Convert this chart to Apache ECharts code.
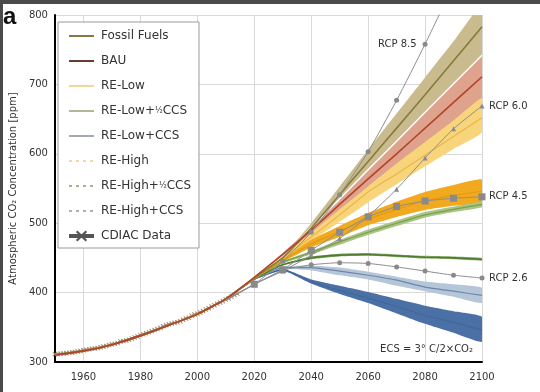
<!DOCTYPE html>
<html>
<head>
<meta charset="utf-8">
<script src="https://cdn.jsdelivr.net/npm/echarts@6/dist/echarts.min.js"></script>
<style>html,body{margin:0;padding:0;background:#fff}#c{width:540px;height:392px}</style>
</head>
<body>
<div id="c"></div>
<script>
// ---------- data ----------
const years = [1950,1960,1970,1980,1990,2000,2010,2020,2030,2040,2050,2060,2070,2080,2090,2100];
const fossil     = [310,316,325,338,353,369,391,421,450,493,541,589,637,685,734,783];
const bau        = [310,316,325,338,353,369,391,422,455,490,527,564,600,637,674,711];
const reLow      = [310,316,325,338,353,369,391,421,450,480,512,545,571,598,625,652];
const reHigh     = [310,316,325,338,353,369,391,420,446,470,488,506,520,532,540,546];
const reLowHalf  = [310,316,325,338,353,369,391,420,444,458,473,487,500,512,520,527];
const reHighHalf = [310,316,325,338,353,369,391,420,440,450,454,455,453,451,450,448];
const reLowCcs   = [310,316,325,338,353,369,391,419,436,436,431,425,418,408,402,396];
const reHighCcs  = [310,316,325,338,353,369,391,419,433,416,403,392,380,367,357,346];

const bandYears    = [2020,2030,2040,2050,2060,2070,2080,2090,2100];
const fossilLo     = [421,449,494,535,577,618,660,701,742];
const fossilHi     = [421,452,500,553,606,658,710,762,815];
const bauLo        = [421,453,484,515,546,580,613,647,680];
const bauHi        = [422,457,494,535,577,618,660,701,742];
const reLowLo      = [421,448,474,502,530,556,582,607,631];
const reLowHi      = [421,452,486,520,553,586,617,648,680];
const reHighLo     = [420,444,465,480,497,509,519,525,529];
const reHighHi     = [420,448,476,496,515,531,545,555,563];
const reLowHalfLo  = [420,442,455,469,483,496,508,516,523];
const reLowHalfHi  = [420,445,460,476,491,504,516,524,531];
const reHighHalfLo = [420,439,448,452,453,451,449,448,446];
const reHighHalfHi = [420,441,452,456,457,455,453,452,450];
const reLowCcsLo   = [419,434,432,425,419,410,402,394,385];
const reLowCcsHi   = [419,437,439,436,430,423,416,412,407];
const reHighCcsLo  = [419,432,413,398,385,370,355,342,329];
const reHighCcsHi  = [419,434,419,410,401,391,381,373,365];

const rcpYears = [2010,2020,2030,2040,2050,2060,2070,2080,2090,2100];
const rcp85 = [389,412,445,487,541,603,677,758,844,936];
const rcp60 = [389,412,431,454,478,510,549,594,636,669];
const rcp45 = [389,412,433,461,487,509,524,532,536,538];
const rcp26 = [389,412,432,440,443,442,437,431,425,421];

const cdiacStart = 1950;
const cdiac = [311.3,311.7,312.0,312.4,312.8,313.2,313.7,314.3,315.0,316.0,
  316.9,317.6,318.5,319.0,319.6,320.0,321.4,322.2,323.0,324.6,
  325.7,326.3,327.5,329.7,330.2,331.1,332.1,333.8,335.4,336.8,
  338.7,340.1,341.4,343.0,344.6,346.0,347.4,349.2,351.6,353.1,
  354.4,355.6,356.4,357.1,358.8,360.8,362.6,363.7,366.7,368.4,
  369.7,371.3,373.5,375.8,377.5,379.8,381.9,383.8,385.6,387.4,
  389.9,391.6,393.9,396.5,398.6];

const legendNames = ['Fossil Fuels','BAU','RE-Low','RE-Low+½CCS','RE-Low+CCS','RE-High','RE-High+½CCS','RE-High+CCS','CDIAC Data'];
const rcpNames = ['RCP 8.5','RCP 6.0','RCP 4.5','RCP 2.6'];

// ---------- build ----------
const FONT = 'DejaVu Sans';
const xPath = 'path://M0,1.4L1.4,0L10,8.6L8.6,10Z M8.6,0L10,1.4L1.4,10L0,8.6Z';

function band(lo, hi, color, edge) {
  return {
    type:'custom', z:2, silent:true,
    data: bandYears.map((y,i)=>[y, lo[i], hi[i]]),
    encode:{x:0, y:[1,2]},
    renderItem: function(params, api) {
      if (params.dataIndexInside !== 0) return null;
      const n = params.dataInsideLength;
      const up = [], dn = [];
      for (let j = 0; j < n; j++) {
        up.push(api.coord([api.value(0,j), api.value(2,j)]));
        dn.push(api.coord([api.value(0,j), api.value(1,j)]));
      }
      const cs = params.coordSys;
      const pts = up.slice();
      for (let j = n-1; j >= 1; j--) pts.push(dn[j]);
      const children = [{type:'polygon', shape:{points:pts, smooth:0.15,
          smoothConstraint:[[cs.x-30, cs.y-60],[cs.x+cs.width+30, cs.y+cs.height]]},
        style:{fill:color}}];
      if (edge) children.push({type:'polyline', shape:{points:dn, smooth:0.15}, style:{stroke:edge, lineWidth:1.5, fill:null}});
      return {type:'group', children:children,
        clipPath:{type:'rect', shape:{x:cs.x, y:cs.y, width:cs.width, height:cs.height}}};
    }
  };
}
function scen(name, vals, color, width) {
  return {type:'line', name:name, data: years.map((y,i)=>[y, vals[i]]), symbol:'none',
    smooth:0.15, lineStyle:{color:color, width:width}, itemStyle:{color:color}, z:4};
}
function rcp(name, vals, sym, size, endLabel) {
  const s = {type:'line', name:name, z:6,
    data: rcpYears.map((y,i)=> i===0 ? {value:[y, vals[i]], symbol:'none'} : [y, vals[i]]),
    symbol:sym, symbolSize:size, smooth:0.2,
    lineStyle:{color:'#8e8e8e', width:1}, itemStyle:{color:'#8a8a8a'}};
  if (endLabel) s.endLabel = {show:true, formatter:name, distance:7, color:'#333', fontSize:10, fontFamily:FONT};
  return s;
}

const series = [
  band(bauLo, bauHi, '#dfa28c'),
  band(fossilLo, fossilHi, '#c9bb8d', '#ffffff'),
  band(reLowLo, reLowHi, '#f8d47a'),
  band(reHighLo, reHighHi, '#f1a91f'),
  band(reLowHalfLo, reLowHalfHi, '#a9c483'),
  band(reHighHalfLo, reHighHalfHi, '#86a866'),
  band(reLowCcsLo, reLowCcsHi, '#b5c6d9'),
  band(reHighCcsLo, reHighCcsHi, '#4a70a5'),
  {type:'line', name:'CDIAC Data', z:3, data: cdiac.map((v,i)=>[cdiacStart+i, v]),
    symbol:xPath, symbolSize:5, itemStyle:{color:'#a48c74'}, lineStyle:{color:'#9c8672', width:1}},
  scen('RE-High+CCS', reHighCcs, '#42679a', 1.2),
  scen('RE-Low+CCS', reLowCcs, '#6e87a8', 1.2),
  scen('RE-High+½CCS', reHighHalf, '#4d7c2e', 1.6),
  scen('RE-Low+½CCS', reLowHalf, '#79a04c', 1.2),
  scen('RE-High', reHigh, '#e49a12', 1.2),
  scen('RE-Low', reLow, '#ebb648', 1.2),
  scen('Fossil Fuels', fossil, '#857b3c', 1.6),
  scen('BAU', bau, '#b3442c', 1.6)
];
const r85 = rcp(rcpNames[0], rcp85, 'circle', 5, false);
r85.data[7] = {value:[rcpYears[7], rcp85[7]], label:{show:true, position:'left', distance:6, formatter:rcpNames[0], color:'#333', fontSize:10, fontFamily:FONT}};
series.push(r85, rcp(rcpNames[1], rcp60, 'triangle', 5, true), rcp(rcpNames[2], rcp45, 'rect', 7, true), rcp(rcpNames[3], rcp26, 'circle', 5, true));

const hide = {opacity:0};
const legendStyles = {
  'Fossil Fuels': {lineStyle:{color:'#857a45', width:2}, itemStyle:hide},
  'BAU': {lineStyle:{color:'#6b3c2c', width:2}, itemStyle:hide},
  'RE-Low': {lineStyle:{color:'#f0d79a', width:2}, itemStyle:hide},
  'RE-Low+½CCS': {lineStyle:{color:'#b3b79a', width:2}, itemStyle:hide},
  'RE-Low+CCS': {lineStyle:{color:'#a4abb3', width:2}, itemStyle:hide},
  'RE-High': {lineStyle:{color:'#ecd8a8', width:2, type:[3,4]}, itemStyle:hide},
  'RE-High+½CCS': {lineStyle:{color:'#a9b293', width:2, type:[3,4]}, itemStyle:hide},
  'RE-High+CCS': {lineStyle:{color:'#aab0b8', width:2, type:[3,4]}, itemStyle:hide},
  'CDIAC Data': {lineStyle:{color:'#555555', width:4}, itemStyle:{color:'#555555', opacity:1}}
};

const chart = echarts.init(document.getElementById('c'), null, {renderer:'canvas'});
chart.setOption({
  animation:false,
  backgroundColor:'#ffffff',
  textStyle:{fontFamily:FONT},
  grid:{left:52, right:58, top:15, bottom:30, containLabel:false},
  xAxis:{type:'value', min:1950, max:2100, minInterval:20, maxInterval:20, splitNumber:7,
    axisLine:{show:true, onZero:false, lineStyle:{color:'#000', width:2}},
    axisTick:{show:false},
    axisLabel:{showMinLabel:false, margin:10, fontSize:10, color:'#333', fontFamily:FONT,
      formatter: v => String(v)},
    splitLine:{show:true, lineStyle:{color:'#d9d9d9', width:1}}},
  yAxis:{type:'value', min:300, max:800, interval:100,
    name:'Atmospheric CO₂ Concentration [ppm]', nameLocation:'middle', nameGap:34,
    nameTextStyle:{fontSize:10, color:'#333', fontFamily:FONT},
    axisLine:{show:true, lineStyle:{color:'#000', width:2}},
    axisTick:{show:false},
    axisLabel:{margin:7, fontSize:10, color:'#333', fontFamily:FONT},
    splitLine:{show:true, lineStyle:{color:'#d9d9d9', width:1}}},
  legend:{
    data: legendNames.map(n => Object.assign({name:n}, legendStyles[n])),
    orient:'vertical', left:58, top:22, itemWidth:25, itemHeight:14, itemGap:13,
    padding:[8,8,6,9], backgroundColor:'#ffffff', borderColor:'#9a9a9a', borderWidth:1,
    formatter: n => n.replace('½', '{f|½}'),
    textStyle:{fontSize:12, color:'#333', fontFamily:FONT, padding:[0,0,0,2],
      rich:{f:{fontSize:8, fontFamily:FONT, color:'#333'}}},
    selectedMode:false, z:10
  },
  graphic:[
    {type:'rect', shape:{x:0, y:0, width:540, height:4}, style:{fill:'#4a4a4a'}, z:100},
    {type:'rect', shape:{x:0, y:0, width:3, height:392}, style:{fill:'#4a4a4a'}, z:100},
    {type:'text', x:3, y:17, style:{text:'a', fontSize:24, fontWeight:'bold', fontFamily:'Liberation Sans', fill:'#111', verticalAlign:'middle'}, z:100},
    {type:'text', x:473, y:349, style:{text:'ECS = 3° C/2×CO₂', fontSize:10, fontFamily:FONT, fill:'#333', align:'right', verticalAlign:'middle'}, z:100}
  ],
  series: series
});
</script>
</body>
</html>
